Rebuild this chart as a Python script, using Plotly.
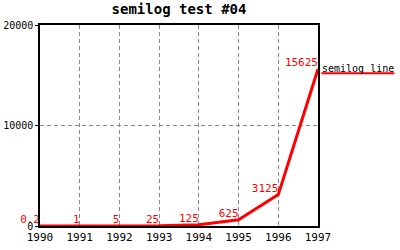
import plotly.graph_objects as go

years = [1990, 1991, 1992, 1993, 1994, 1995, 1996, 1997]
values = [0.2, 1, 5, 25, 125, 625, 3125, 15625]
labels = ["0.2", "1", "5", "25", "125", "625", "3125", "15625"]
y_ticks = [0, 10000, 20000]
series_name = "semilog line"
title = "semilog test #04"

font = "DejaVu Sans Mono"
fig = go.Figure()
fig.add_trace(go.Scatter(
    x=years, y=values, mode="lines+text", text=labels,
    textposition="top left", textfont=dict(color="red", size=11, family=font),
    line=dict(color="red", width=3), name=series_name, showlegend=False,
    cliponaxis=False,
))
fig.add_annotation(text=series_name, xref="paper", yref="paper", x=1.008, y=0.785,
                   xanchor="left", yanchor="middle", showarrow=False,
                   font=dict(family=font, size=10, color="black"))
fig.add_shape(type="line", xref="paper", yref="paper", x0=1.012, x1=1.275, y0=0.76, y1=0.76,
              line=dict(color="red", width=2))
fig.update_layout(
    width=400, height=250, margin=dict(l=40, r=82, t=25, b=24),
    paper_bgcolor="white", plot_bgcolor="white",
    title=dict(text="<b>" + title + "</b>", x=0.5, xref="paper", y=0.985, yanchor="top",
               font=dict(family=font, size=14, color="black")),
    xaxis=dict(range=[1990, 1997], tickvals=years, ticktext=[str(y) for y in years],
               showgrid=True, gridcolor="#888888", griddash="4px,3px", gridwidth=1,
               showline=True, linecolor="black", linewidth=1.5, mirror=True, automargin=False,
               ticks="", zeroline=False, tickfont=dict(family=font, size=11, color="black")),
    yaxis=dict(range=[0, 20000], tickvals=y_ticks, ticktext=[str(v) for v in y_ticks],
               showgrid=True, gridcolor="#888888", griddash="4px,3px", gridwidth=1,
               showline=True, linecolor="black", linewidth=1.5, mirror=True, automargin=False,
               ticks="outside", ticklen=3, tickcolor="black", zeroline=False,
               tickfont=dict(family=font, size=10, color="black")),
)
fig.write_html("out.html")
